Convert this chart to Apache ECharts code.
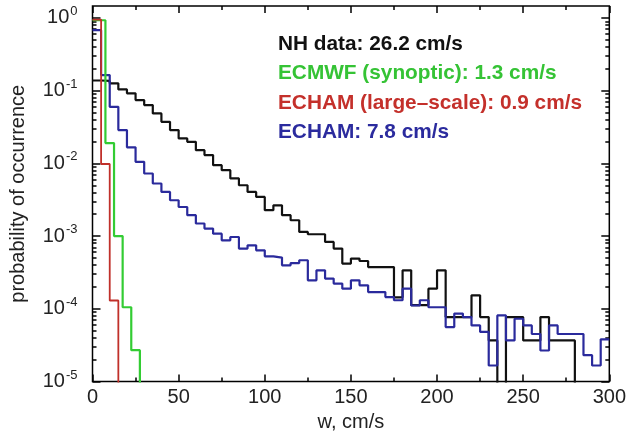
<!DOCTYPE html>
<html>
<head>
<meta charset="utf-8">
<title>w histogram</title>
<script src="https://cdn.jsdelivr.net/npm/echarts@6/dist/echarts.min.js"></script>
<style>
  html, body { margin: 0; padding: 0; background: #fff; }
  #chart-main { width: 629px; height: 439px; }
</style>
</head>
<body>
<div id="chart-main"></div>
<script>
// NH data and ECHAM use 5 cm/s bins from 0 to 300
var BIN_W = 5;
var N_BINS = 60;

// probability per bin (0 = empty bin)
var nhData = [
  0.138, 0.136, 0.126, 0.104, 0.092, 0.0743, 0.0633, 0.0487, 0.0373, 0.0287,
  0.022, 0.0198, 0.0152, 0.013, 0.00945, 0.00806, 0.0062, 0.005, 0.00405, 0.00346,
  0.00227, 0.00265, 0.00194, 0.00165, 0.00114, 0.00106, 0.00106, 0.00083, 0.000673, 0.000418,
  0.00049, 0.000454, 0.000375, 0.000375, 0.000375, 0.000144, 0.000338, 0.000112, 0.000112, 0.000189,
  0.000338, 7.7e-5, 7.7e-5, 7.7e-5, 0.000153, 7.7e-5, 3.67e-5, 0, 7.7e-5, 7.7e-5,
  3.67e-5, 3.67e-5, 7.7e-5, 3.67e-5, 3.67e-5, 3.67e-5, 0, 0, 0, 0
];
var echamData = [
  0.68, 0.164, 0.06, 0.0287, 0.0166, 0.0105, 0.00726, 0.00529, 0.00405, 0.00311,
  0.00251, 0.00194, 0.00149, 0.00127, 0.00108, 0.000875, 0.000972, 0.000673, 0.000747, 0.000637,
  0.000527, 0.000506, 0.000396, 0.000426, 0.000465, 0.000246, 0.000338, 0.00026, 0.000222, 0.000189,
  0.000246, 0.00021, 0.00017, 0.00017, 0.000145, 0.000131, 0.000189, 0.000111, 0.000131, 0.000105,
  0.000105, 5.6e-5, 8.6e-5, 7.7e-5, 5.9e-5, 4.8e-5, 1.66e-5, 8.1e-5, 3.67e-5, 7.3e-5,
  5.9e-5, 4.5e-5, 2.67e-5, 5.9e-5, 4.5e-5, 4.5e-5, 4.5e-5, 2.3e-5, 1.66e-5, 3.8e-5
];
var ecmwfEdges = [0, 7.5, 12.5, 17.5, 22.5, 27.5];
var ecmwfData = [0.93, 0.019, 0.001, 1.05e-4, 2.7e-5];
var echamLsEdges = [0, 5, 10, 15];
var echamLsData = [0.95, 0.0098, 1.3e-4];

var legendLines = [
  { text: 'NH data: 26.2 cm/s', color: '#111111' },
  { text: 'ECMWF (synoptic): 1.3 cm/s', color: '#35c335' },
  { text: 'ECHAM (large–scale): 0.9 cm/s', color: '#c4302b' },
  { text: 'ECHAM: 7.8 cm/s', color: '#2b2b9e' }
];
var yMajor = [1e-5, 1e-4, 1e-3, 1e-2, 1e-1, 1];
var xTicks = [0, 50, 100, 150, 200, 250, 300];

// empty bins sit below the axis minimum, the line is clipped at the frame
var FLOOR = 1e-8;
var FONT = '"Liberation Sans", Arial, Helvetica, sans-serif';

var nhEdges = [];
for (var i = 0; i <= N_BINS; i++) nhEdges.push(i * BIN_W);

var yMinor = [];
for (var e = 0; e < yMajor.length - 1; e++) {
  for (var m = 2; m <= 9; m++) yMinor.push(m * yMajor[e]);
}

function toSteps(edges, values, drop) {
  var pts = [];
  for (var i = 0; i < values.length; i++) {
    pts.push([edges[i], values[i] > 0 ? values[i] : FLOOR]);
  }
  var last = values[values.length - 1];
  pts.push([edges[values.length], last > 0 ? last : FLOOR]);
  if (drop) pts.push([edges[values.length], FLOOR]);
  return pts;
}

function histSeries(name, pts, color, width) {
  return {
    name: name, type: 'line', step: 'end', showSymbol: false, symbol: 'none',
    data: pts, clip: true, animation: false,
    lineStyle: { color: color, width: width }
  };
}

var myChart = echarts.init(document.getElementById('chart-main'));

var tickLine = { color: '#000', width: 1.5 };
var yBase = { type: 'log', logBase: 10, min: 1e-5, max: 1.46, splitLine: { show: false }, axisLine: { show: false } };
var xBase = { type: 'value', min: 0, max: 300, interval: 50, splitLine: { show: false }, axisLine: { show: false } };

var graphics = legendLines.map(function (l, i) {
  return {
    type: 'text', left: 278, top: 34 + i * 29.2,
    style: { text: l.text, fill: l.color, fontSize: 20.8, fontWeight: 'bold', fontFamily: FONT }
  };
});

var option = {
  backgroundColor: '#fff',
  animation: false,
  grid: { left: 92.5, right: 16, top: 6, bottom: 57.5, show: true, borderColor: '#000', borderWidth: 1.5, backgroundColor: 'transparent' },
  xAxis: [
    Object.assign({}, xBase, {
      position: 'bottom',
      name: 'w, cm/s', nameLocation: 'middle', nameGap: 30,
      nameTextStyle: { fontSize: 20, color: '#222', fontFamily: FONT },
      axisTick: { inside: true, length: 7, lineStyle: tickLine },
      minorTick: { show: true, splitNumber: 2, length: 4, lineStyle: tickLine },
      axisLabel: { fontSize: 20, color: '#222', margin: 6, fontFamily: FONT, customValues: xTicks }
    }),
    Object.assign({}, xBase, {
      position: 'top',
      axisTick: { inside: true, length: 7, lineStyle: tickLine },
      minorTick: { show: true, splitNumber: 2, length: 4, lineStyle: tickLine },
      axisLabel: { show: false }
    })
  ],
  yAxis: [
    Object.assign({}, yBase, {
      position: 'left',
      name: 'probability of occurrence', nameLocation: 'middle', nameGap: 64,
      nameTextStyle: { fontSize: 20, color: '#222', fontFamily: FONT },
      axisTick: { inside: true, length: 8, lineStyle: tickLine, customValues: yMajor },
      axisLabel: {
        customValues: yMajor, margin: 15, fontFamily: FONT,
        formatter: function (v) {
          return '{b|10}{e|' + Math.round(Math.log10(v)) + '}';
        },
        rich: {
          b: { fontSize: 20, color: '#222', fontFamily: FONT },
          e: { fontSize: 13, color: '#222', fontFamily: FONT, padding: [0, 0, 13, 1] }
        }
      }
    }),
    Object.assign({}, yBase, {
      position: 'left',
      axisTick: { inside: true, length: 4, lineStyle: tickLine, customValues: yMinor },
      axisLabel: { show: false }
    }),
    Object.assign({}, yBase, {
      position: 'right',
      axisTick: { inside: true, length: 8, lineStyle: tickLine, customValues: yMajor },
      axisLabel: { show: false }
    }),
    Object.assign({}, yBase, {
      position: 'right',
      axisTick: { inside: true, length: 4, lineStyle: tickLine, customValues: yMinor },
      axisLabel: { show: false }
    })
  ],
  graphic: graphics,
  series: [
    histSeries('NH data', toSteps(nhEdges, nhData, true), '#111111', 2.2),
    histSeries('ECHAM', toSteps(nhEdges, echamData, false), '#2a2a9c', 2.2),
    histSeries('ECMWF (synoptic)', toSteps(ecmwfEdges, ecmwfData, true), '#33cc33', 2.2),
    histSeries('ECHAM (large-scale)', toSteps(echamLsEdges, echamLsData, true), '#c0302a', 1.8)
  ]
};

myChart.setOption(option);
</script>
</body>
</html>
